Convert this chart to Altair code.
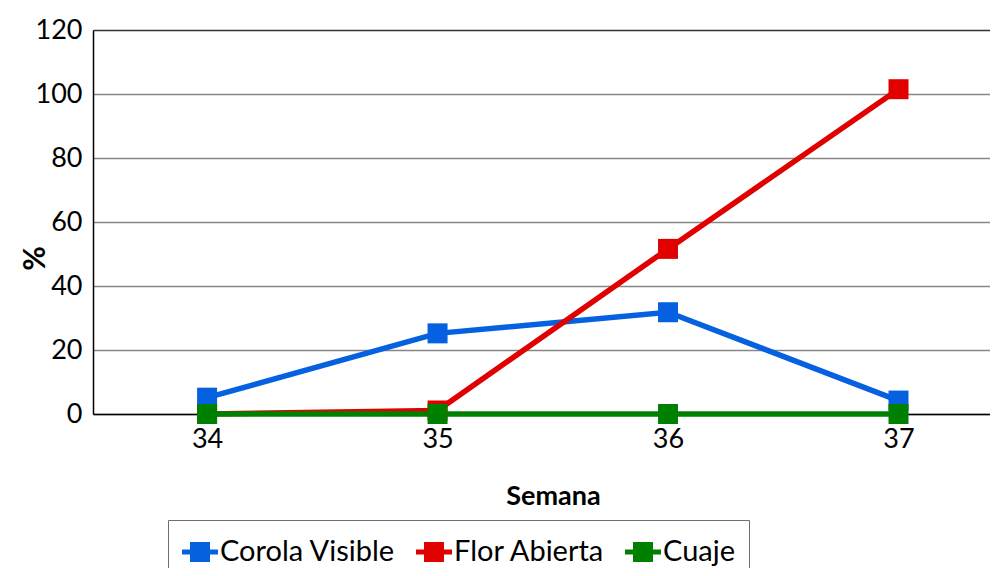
import altair as alt
import pandas as pd

weeks = [34, 35, 36, 37]
corola_visible = [5.1, 25.2, 31.8, 4.2]
flor_abierta = [0, 1.1, 51.6, 101.5]
cuaje = [0, 0, 0, 0]
series = ["Corola Visible", "Flor Abierta", "Cuaje"]
colors = ["#0561E0", "#E00000", "#008000"]
y_ticks = [0, 20, 40, 60, 80, 100, 120]

rows = []
for name, vals in zip(series, [corola_visible, flor_abierta, cuaje]):
    for w, v in zip(weeks, vals):
        rows.append({"Semana": w, "Serie": name, "Valor": v})
df = pd.DataFrame(rows)

FONT = "Lato"

x_enc = alt.X(
    "Semana:Q",
    scale=alt.Scale(domain=[33.505, 37.397], nice=False, zero=False),
    axis=alt.Axis(
        values=weeks, format="d", grid=False, ticks=False,
        domainColor="black", domainWidth=1.5,
        labelFont=FONT, labelFontSize=27, labelColor="black", labelPadding=12,
        title="Semana", titleFont=FONT, titleFontSize=27, titleFontWeight="bold",
        titleColor="black", titleX=460, titleY=82, titleAlign="center",
        titleBaseline="middle",
    ),
)
y_enc = alt.Y(
    "Valor:Q",
    scale=alt.Scale(domain=[0, 120], nice=False),
    axis=alt.Axis(
        values=y_ticks, grid=True,
        gridColor={"condition": {"test": "datum.value == 120", "value": "#333333"}, "value": "#868686"},
        gridWidth=1.3, ticks=False,
        domainColor="black", domainWidth=1.5,
        labelFont=FONT, labelFontSize=27, labelColor="black", labelPadding=11,
        title="%", titleFont=FONT, titleFontSize=30, titleFontWeight="bold",
        titleColor="black", titleAngle=270, titleX=-58, titleY=228,
        titleAlign="center", titleBaseline="middle",
    ),
)

color_scale = alt.Scale(domain=series, range=colors)
symbol_path = "M-1,-0.14H1V0.14H-1Z M-0.556,-0.556H0.556V0.556H-0.556Z"
pad_right = "\u00a0" * 24

legend = alt.Legend(
    orient="none", legendX=75, legendY=490, direction="horizontal",
    gridAlign="none", columnPadding=20, padding=14,
    strokeColor="#6f6f6f", symbolType=symbol_path, symbolSize=1296,
    symbolStrokeWidth=0, symbolOpacity=1, labelFont=FONT,
    labelFontSize=29, labelColor="black", labelOffset=2, labelLimit=500,
    labelExpr="datum.label == 'Cuaje' ? 'Cuaje" + pad_right + "' : datum.label",
    title=None,
)

color_enc = alt.Color("Serie:N", scale=color_scale, sort=series, legend=legend)

lines = alt.Chart(df).mark_line(strokeWidth=5.5).encode(
    x=x_enc, y=y_enc, color=color_enc, order=alt.Order("Semana:Q"),
)
points = alt.Chart(df).mark_point(shape="square", filled=True, size=400, opacity=1).encode(
    x=x_enc, y=y_enc, color=color_enc,
)

chart = alt.layer(lines, points).properties(
    width=897, height=384,
    autosize=alt.AutoSizeParams(type="none"),
    padding={"left": 85, "top": 22, "right": 0, "bottom": 154},
    background="white",
).configure_view(stroke=None)

chart.save("out.html", embed_options={"renderer": "svg", "actions": False})
